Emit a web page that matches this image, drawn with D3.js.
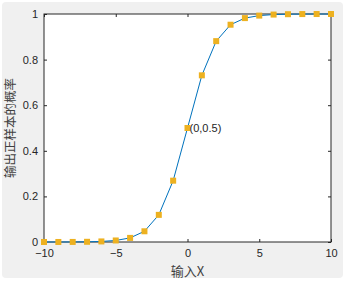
<!DOCTYPE html>
<html>
<head>
<meta charset="utf-8">
<script src="https://cdn.jsdelivr.net/npm/d3@7"></script>
<style>
  html, body { margin: 0; padding: 0; background: #fff; }
  svg { display: block; }
</style>
</head>
<body>
<div id="vis"></div>
<script>
var xs = [-10, -9, -8, -7, -6, -5, -4, -3, -2, -1, 0, 1, 2, 3, 4, 5, 6, 7, 8, 9, 10];
var ps = [0.00005, 0.0001, 0.0003, 0.0009, 0.0025, 0.0067, 0.018, 0.047, 0.119, 0.269, 0.5,
          0.731, 0.881, 0.953, 0.982, 0.993, 0.9975, 0.9991, 0.9997, 0.9999, 1.0];
var xTicks = [-10, -5, 0, 5, 10];
var yTicks = [0, 0.2, 0.4, 0.6, 0.8, 1];
var note = "(0,0.5)";

var W = 346, H = 286;
var margin = {top: 14, right: 15, bottom: 44, left: 44};
var width = W - margin.left - margin.right,
    height = H - margin.top - margin.bottom;

var svg = d3.select("div#vis").append("svg")
  .attr("width", W)
  .attr("height", H);

svg.append("rect")
  .attr("x", 2).attr("y", 2)
  .attr("width", 341).attr("height", 276)
  .attr("rx", 4)
  .attr("fill", "#f0f0f0");

var g = svg.append("g")
  .attr("transform", "translate(" + margin.left + "," + margin.top + ")");

var x = d3.scaleLinear().domain([-10, 10]).range([0, width]);
var y = d3.scaleLinear().domain([0, 1]).range([height, 0]);

g.append("rect")
  .attr("width", width).attr("height", height)
  .attr("fill", "#fff");

var font = "'Liberation Sans', Arial, sans-serif";

function styleAxis(a) {
  a.select(".domain").remove();
  a.selectAll("line").attr("stroke", "#262626");
  a.selectAll("text").attr("fill", "#262626").attr("font-family", font).attr("font-size", 11);
}

g.append("g")
  .attr("transform", "translate(0," + height + ")")
  .call(d3.axisBottom(x).tickValues(xTicks).tickSize(-3).tickPadding(7))
  .call(styleAxis);

g.append("g")
  .call(d3.axisTop(x).tickValues(xTicks).tickSize(-3).tickFormat(""))
  .call(styleAxis);

g.append("g")
  .call(d3.axisLeft(y).tickValues(yTicks).tickSize(-3).tickPadding(6).tickFormat(d3.format("")))
  .call(styleAxis);

g.append("g")
  .attr("transform", "translate(" + width + ",0)")
  .call(d3.axisRight(y).tickValues(yTicks).tickSize(-3).tickFormat(""))
  .call(styleAxis);

g.append("rect")
  .attr("width", width).attr("height", height)
  .attr("fill", "none")
  .attr("stroke", "#262626")
  .attr("stroke-width", 1);

var line = d3.line()
  .x(function(d, i) { return x(xs[i]); })
  .y(function(d) { return y(d); });

g.append("path")
  .datum(ps)
  .attr("d", line)
  .attr("fill", "none")
  .attr("stroke", "#0072bd")
  .attr("stroke-width", 1);

g.selectAll("rect.pt")
  .data(ps)
  .enter().append("rect")
  .attr("class", "pt")
  .attr("x", function(d, i) { return x(xs[i]) - 3; })
  .attr("y", function(d) { return y(d) - 3; })
  .attr("width", 6)
  .attr("height", 6)
  .attr("fill", "#edb120");

g.append("text")
  .attr("x", x(0) + 2)
  .attr("y", y(0.5))
  .attr("dy", "0.35em")
  .attr("font-family", font)
  .attr("font-size", 11)
  .attr("fill", "#262626")
  .text(note);

svg.append("text")
  .attr("x", margin.left + x(0))
  .attr("y", 276)
  .attr("text-anchor", "middle")
  .attr("font-family", "'Noto Sans CJK SC', sans-serif")
  .attr("font-size", 13)
  .attr("fill", "#404040")
  .text("输入X");

svg.append("text")
  .attr("transform", "translate(15," + (margin.top + y(0.5)) + ") rotate(-90)")
  .attr("text-anchor", "middle")
  .attr("font-family", "'Noto Sans CJK SC', sans-serif")
  .attr("font-size", 12.5)
  .attr("fill", "#404040")
  .text("输出正样本的概率");
</script>
</body>
</html>
